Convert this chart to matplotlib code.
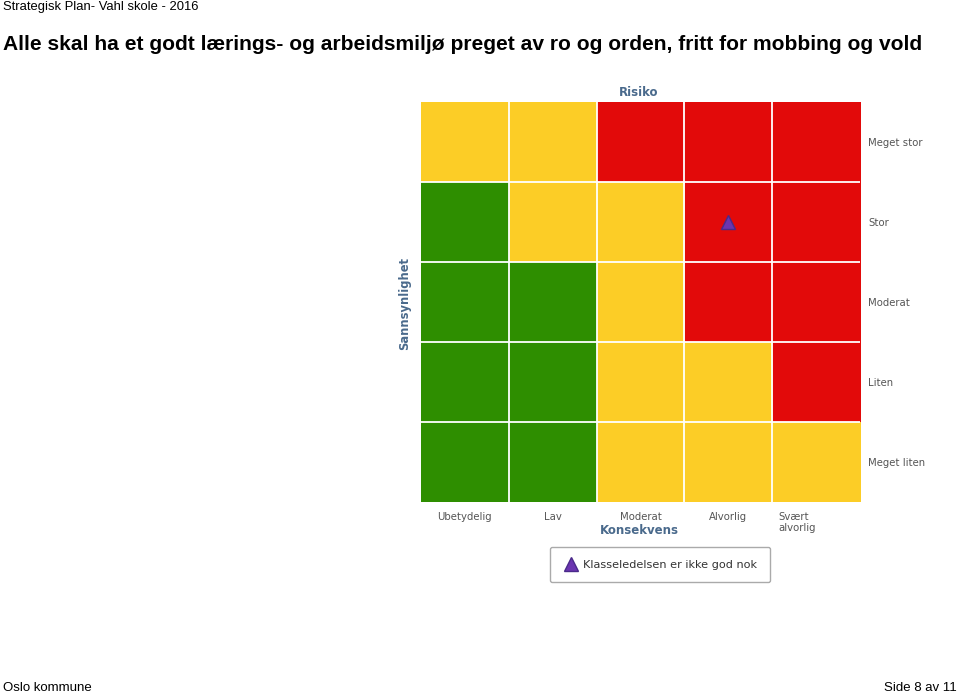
"""Risk matrix: sannsynlighet vs konsekvens, Vahl skole 2016."""

import matplotlib as mpl
mpl.use("Agg")
import matplotlib.pyplot as plt
import numpy as np
from matplotlib.colors import ListedColormap
from matplotlib.lines import Line2D

# data
konsekvens = ["Ubetydelig", "Lav", "Moderat", "Alvorlig", "Svært\nalvorlig"]
sannsynlighet = ["Meget stor", "Stor", "Moderat", "Liten", "Meget liten"]  # top -> bottom
# 0 = green (lav), 1 = yellow (middels), 2 = red (høy)
risk_levels = [
    [1, 1, 2, 2, 2],
    [0, 1, 1, 2, 2],
    [0, 0, 1, 2, 2],
    [0, 0, 1, 1, 2],
    [0, 0, 1, 1, 1],
]
risk_name = "Klasseledelsen er ikke god nok"
risk_konsekvens = "Alvorlig"
risk_sannsynlighet = "Stor"

level_colors = ["#2e8e00", "#fccd26", "#e20a0a"]
label_blue = "#4a6a8c"
label_grey = "#555555"

fig = plt.figure(figsize=(9.6, 6.94), dpi=100)
ax = fig.add_axes([0.4385, 0.2767, 0.4573, 0.5763])

grid = np.array(risk_levels)
ax.imshow(grid, cmap=ListedColormap(level_colors), vmin=-0.5, vmax=2.5,
          aspect="auto", interpolation="nearest")

# white separators between cells
for k in range(1, len(konsekvens)):
    ax.axvline(k - 0.5, color="white", lw=1.3)
for k in range(1, len(sannsynlighet)):
    ax.axhline(k - 0.5, color="white", lw=1.3)
for side in ax.spines.values():
    side.set_visible(False)

ax.set_xticks(range(len(konsekvens)), konsekvens)
ax.tick_params(axis="x", length=0, pad=7, labelsize=7.3, labelcolor=label_grey)
ax.set_yticks(range(len(sannsynlighet)), sannsynlighet)
ax.yaxis.tick_right()
ax.tick_params(axis="y", length=0, pad=6, labelsize=7.3, labelcolor=label_grey)
xlabels = ax.get_xticklabels()
xlabels[-1].set_horizontalalignment("right")
xlabels[-1].set_multialignment("left")

# the risk marker
mx = konsekvens.index(next(c for c in konsekvens if c.startswith(risk_konsekvens)))
my = sannsynlighet.index(risk_sannsynlighet)
ax.plot(mx, my, marker="^", ms=10, color="#6b35b0", mec="#4a2a8a", mew=1, ls="none")
ax.set_xlim(-0.5, len(konsekvens) - 0.5)
ax.set_ylim(len(sannsynlighet) - 0.5, -0.5)

fig.text(0.665, 1 - 92 / 694, "Risiko", ha="center", va="center",
         fontsize=8.5, fontweight="bold", color=label_blue)
fig.text(0.666, 1 - 530 / 694, "Konsekvens", ha="center", va="center",
         fontsize=8.5, fontweight="bold", color=label_blue)
fig.text(405 / 960, 1 - 303 / 694, "Sannsynlighet", ha="center", va="center",
         rotation=90, fontsize=8.3, fontweight="bold", color=label_blue)

handle = Line2D([], [], marker="^", ms=10, color="#6b35b0", mec="#4a2a8a", ls="none")
leg = fig.legend([handle], [risk_name], loc="center",
                 bbox_to_anchor=(660 / 960, 1 - 564.5 / 694),
                 fontsize=8.1, fancybox=True, framealpha=1, edgecolor="#aaaaaa",
                 handletextpad=0.3, handlelength=1.5, borderpad=1.15, labelcolor="#333333")
leg.get_frame().set_linewidth(1.0)

# page header / footer
fig.text(3 / 960, 1 - 7 / 694, "Strategisk Plan- Vahl skole - 2016", ha="left", va="center",
         fontsize=9.4, family="Liberation Sans")
fig.text(3 / 960, 1 - 45 / 694,
         "Alle skal ha et godt lærings- og arbeidsmiljø preget av ro og orden, fritt for mobbing og vold",
         ha="left", va="center", fontsize=15.15, fontweight="bold", family="Liberation Sans")
fig.text(3 / 960, 1 - 688 / 694, "Oslo kommune", ha="left", va="center",
         fontsize=9.5, family="Liberation Sans")
fig.text(957 / 960, 1 - 688 / 694, "Side 8 av 11", ha="right", va="center",
         fontsize=9.5, family="Liberation Sans")

fig.savefig("out.png", dpi=100)
plt.close(fig)
